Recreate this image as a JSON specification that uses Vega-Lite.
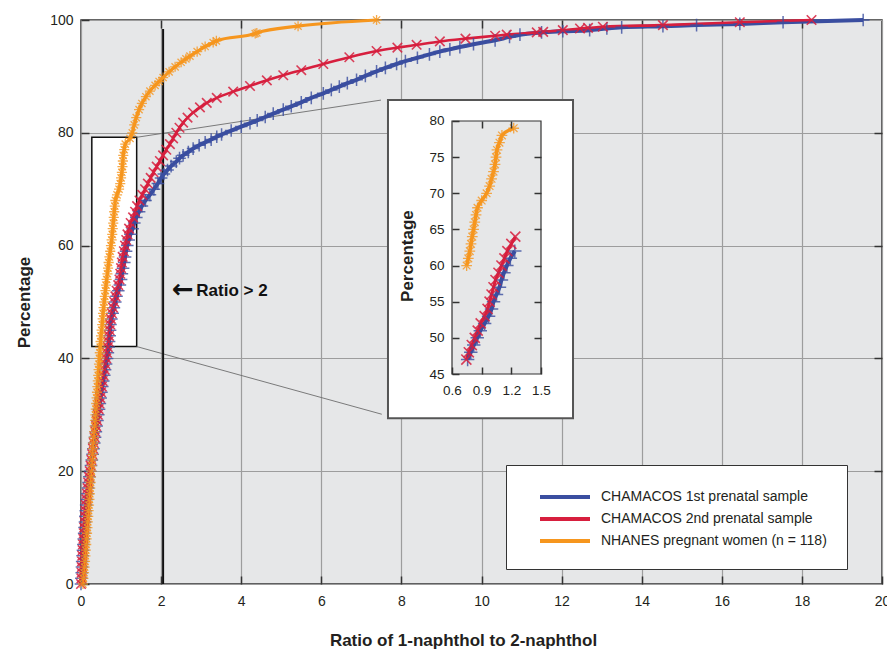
{
"$schema": "https://vega.github.io/schema/vega-lite/v6.json",
"width": 801,
"height": 564,
"autosize": {"type": "none"},
"padding": {"left": 81, "top": 20, "right": 5, "bottom": 68},
"background": "white",
"config": {
  "font": "Liberation Sans",
  "view": {"fill": "#e6e7e8", "stroke": "#333333", "strokeWidth": 1.5},
  "axis": {"labelFont": "Liberation Sans", "titleFont": "Liberation Sans", "labelColor": "#231f20", "titleColor": "#231f20", "tickColor": "#333333", "tickWidth": 1.5, "gridColor": "#9d9d9d", "gridWidth": 1.2, "domain": false, "labelFlush": false, "labelOverlap": false}
},
"datasets": {
"curves": [
{"s":"CHAMACOS 1st prenatal sample","x":0.00,"y":0},{"s":"CHAMACOS 1st prenatal sample","x":0.01,"y":1},{"s":"CHAMACOS 1st prenatal sample","x":0.02,"y":2},{"s":"CHAMACOS 1st prenatal sample","x":0.025,"y":3},{"s":"CHAMACOS 1st prenatal sample","x":0.03,"y":4},{"s":"CHAMACOS 1st prenatal sample","x":0.04,"y":5},{"s":"CHAMACOS 1st prenatal sample","x":0.05,"y":6},{"s":"CHAMACOS 1st prenatal sample","x":0.06,"y":7},{"s":"CHAMACOS 1st prenatal sample","x":0.07,"y":8},{"s":"CHAMACOS 1st prenatal sample","x":0.08,"y":9},{"s":"CHAMACOS 1st prenatal sample","x":0.09,"y":10},{"s":"CHAMACOS 1st prenatal sample","x":0.10,"y":11},{"s":"CHAMACOS 1st prenatal sample","x":0.11,"y":12},{"s":"CHAMACOS 1st prenatal sample","x":0.12,"y":13},{"s":"CHAMACOS 1st prenatal sample","x":0.13,"y":14},{"s":"CHAMACOS 1st prenatal sample","x":0.145,"y":15},{"s":"CHAMACOS 1st prenatal sample","x":0.16,"y":16},{"s":"CHAMACOS 1st prenatal sample","x":0.175,"y":17},{"s":"CHAMACOS 1st prenatal sample","x":0.19,"y":18},{"s":"CHAMACOS 1st prenatal sample","x":0.21,"y":19},{"s":"CHAMACOS 1st prenatal sample","x":0.23,"y":20},{"s":"CHAMACOS 1st prenatal sample","x":0.25,"y":21},{"s":"CHAMACOS 1st prenatal sample","x":0.27,"y":22},{"s":"CHAMACOS 1st prenatal sample","x":0.29,"y":23},{"s":"CHAMACOS 1st prenatal sample","x":0.31,"y":24},{"s":"CHAMACOS 1st prenatal sample","x":0.33,"y":25},{"s":"CHAMACOS 1st prenatal sample","x":0.35,"y":26},{"s":"CHAMACOS 1st prenatal sample","x":0.37,"y":27},{"s":"CHAMACOS 1st prenatal sample","x":0.39,"y":28},{"s":"CHAMACOS 1st prenatal sample","x":0.41,"y":29},{"s":"CHAMACOS 1st prenatal sample","x":0.43,"y":30},{"s":"CHAMACOS 1st prenatal sample","x":0.45,"y":31},{"s":"CHAMACOS 1st prenatal sample","x":0.47,"y":32},{"s":"CHAMACOS 1st prenatal sample","x":0.49,"y":33},{"s":"CHAMACOS 1st prenatal sample","x":0.51,"y":34},{"s":"CHAMACOS 1st prenatal sample","x":0.53,"y":35},{"s":"CHAMACOS 1st prenatal sample","x":0.555,"y":36},{"s":"CHAMACOS 1st prenatal sample","x":0.58,"y":37},{"s":"CHAMACOS 1st prenatal sample","x":0.60,"y":38},{"s":"CHAMACOS 1st prenatal sample","x":0.625,"y":39},{"s":"CHAMACOS 1st prenatal sample","x":0.65,"y":40},{"s":"CHAMACOS 1st prenatal sample","x":0.67,"y":41},{"s":"CHAMACOS 1st prenatal sample","x":0.69,"y":42},{"s":"CHAMACOS 1st prenatal sample","x":0.70,"y":43},{"s":"CHAMACOS 1st prenatal sample","x":0.715,"y":44},{"s":"CHAMACOS 1st prenatal sample","x":0.725,"y":45},{"s":"CHAMACOS 1st prenatal sample","x":0.735,"y":46},{"s":"CHAMACOS 1st prenatal sample","x":0.758,"y":47},{"s":"CHAMACOS 1st prenatal sample","x":0.79,"y":48},{"s":"CHAMACOS 1st prenatal sample","x":0.82,"y":49},{"s":"CHAMACOS 1st prenatal sample","x":0.855,"y":50},{"s":"CHAMACOS 1st prenatal sample","x":0.886,"y":51},{"s":"CHAMACOS 1st prenatal sample","x":0.93,"y":52},{"s":"CHAMACOS 1st prenatal sample","x":0.97,"y":53},{"s":"CHAMACOS 1st prenatal sample","x":1.00,"y":54},{"s":"CHAMACOS 1st prenatal sample","x":1.02,"y":55},{"s":"CHAMACOS 1st prenatal sample","x":1.05,"y":56},{"s":"CHAMACOS 1st prenatal sample","x":1.08,"y":57},{"s":"CHAMACOS 1st prenatal sample","x":1.10,"y":58},{"s":"CHAMACOS 1st prenatal sample","x":1.125,"y":59},{"s":"CHAMACOS 1st prenatal sample","x":1.155,"y":60},{"s":"CHAMACOS 1st prenatal sample","x":1.19,"y":61},{"s":"CHAMACOS 1st prenatal sample","x":1.235,"y":62},{"s":"CHAMACOS 1st prenatal sample","x":1.29,"y":63},{"s":"CHAMACOS 1st prenatal sample","x":1.33,"y":64},{"s":"CHAMACOS 1st prenatal sample","x":1.38,"y":65},{"s":"CHAMACOS 1st prenatal sample","x":1.45,"y":66},{"s":"CHAMACOS 1st prenatal sample","x":1.52,"y":67},{"s":"CHAMACOS 1st prenatal sample","x":1.61,"y":68},{"s":"CHAMACOS 1st prenatal sample","x":1.72,"y":69},{"s":"CHAMACOS 1st prenatal sample","x":1.82,"y":70},{"s":"CHAMACOS 1st prenatal sample","x":1.92,"y":71},{"s":"CHAMACOS 1st prenatal sample","x":2.0,"y":72},{"s":"CHAMACOS 1st prenatal sample","x":2.07,"y":72.7},{"s":"CHAMACOS 1st prenatal sample","x":2.16,"y":73.4},{"s":"CHAMACOS 1st prenatal sample","x":2.25,"y":74.1},{"s":"CHAMACOS 1st prenatal sample","x":2.38,"y":74.9},{"s":"CHAMACOS 1st prenatal sample","x":2.46,"y":75.5},{"s":"CHAMACOS 1st prenatal sample","x":2.55,"y":76.0},{"s":"CHAMACOS 1st prenatal sample","x":2.68,"y":76.6},{"s":"CHAMACOS 1st prenatal sample","x":2.8,"y":77.2},{"s":"CHAMACOS 1st prenatal sample","x":2.95,"y":77.8},{"s":"CHAMACOS 1st prenatal sample","x":3.1,"y":78.3},{"s":"CHAMACOS 1st prenatal sample","x":3.25,"y":78.8},{"s":"CHAMACOS 1st prenatal sample","x":3.39,"y":79.3},{"s":"CHAMACOS 1st prenatal sample","x":3.51,"y":79.7},{"s":"CHAMACOS 1st prenatal sample","x":3.75,"y":80.4},{"s":"CHAMACOS 1st prenatal sample","x":4.0,"y":81.1},{"s":"CHAMACOS 1st prenatal sample","x":4.22,"y":81.7},{"s":"CHAMACOS 1st prenatal sample","x":4.4,"y":82.2},{"s":"CHAMACOS 1st prenatal sample","x":4.6,"y":82.8},{"s":"CHAMACOS 1st prenatal sample","x":4.8,"y":83.4},{"s":"CHAMACOS 1st prenatal sample","x":5.05,"y":84.1},{"s":"CHAMACOS 1st prenatal sample","x":5.25,"y":84.7},{"s":"CHAMACOS 1st prenatal sample","x":5.5,"y":85.4},{"s":"CHAMACOS 1st prenatal sample","x":5.75,"y":86.2},{"s":"CHAMACOS 1st prenatal sample","x":6.05,"y":87},{"s":"CHAMACOS 1st prenatal sample","x":6.25,"y":87.6},{"s":"CHAMACOS 1st prenatal sample","x":6.45,"y":88.2},{"s":"CHAMACOS 1st prenatal sample","x":6.65,"y":88.8},{"s":"CHAMACOS 1st prenatal sample","x":6.88,"y":89.4},{"s":"CHAMACOS 1st prenatal sample","x":7.1,"y":90.1},{"s":"CHAMACOS 1st prenatal sample","x":7.38,"y":90.9},{"s":"CHAMACOS 1st prenatal sample","x":7.6,"y":91.5},{"s":"CHAMACOS 1st prenatal sample","x":7.88,"y":92.2},{"s":"CHAMACOS 1st prenatal sample","x":8.1,"y":92.7},{"s":"CHAMACOS 1st prenatal sample","x":8.4,"y":93.3},{"s":"CHAMACOS 1st prenatal sample","x":8.7,"y":93.9},{"s":"CHAMACOS 1st prenatal sample","x":8.96,"y":94.4},{"s":"CHAMACOS 1st prenatal sample","x":9.21,"y":94.8},{"s":"CHAMACOS 1st prenatal sample","x":9.46,"y":95.2},{"s":"CHAMACOS 1st prenatal sample","x":9.8,"y":95.7},{"s":"CHAMACOS 1st prenatal sample","x":10.34,"y":96.4},{"s":"CHAMACOS 1st prenatal sample","x":10.7,"y":97},{"s":"CHAMACOS 1st prenatal sample","x":10.96,"y":97.4},{"s":"CHAMACOS 1st prenatal sample","x":11.5,"y":97.8},{"s":"CHAMACOS 1st prenatal sample","x":12.03,"y":98},{"s":"CHAMACOS 1st prenatal sample","x":12.7,"y":98.2},{"s":"CHAMACOS 1st prenatal sample","x":13.13,"y":98.5},{"s":"CHAMACOS 1st prenatal sample","x":13.5,"y":98.7},{"s":"CHAMACOS 1st prenatal sample","x":14.53,"y":98.9},{"s":"CHAMACOS 1st prenatal sample","x":15.37,"y":99.1},{"s":"CHAMACOS 1st prenatal sample","x":16.45,"y":99.3},{"s":"CHAMACOS 1st prenatal sample","x":17.53,"y":99.6},{"s":"CHAMACOS 1st prenatal sample","x":19.53,"y":100},
{"s":"CHAMACOS 2nd prenatal sample","x":0.00,"y":0},{"s":"CHAMACOS 2nd prenatal sample","x":0.01,"y":1},{"s":"CHAMACOS 2nd prenatal sample","x":0.015,"y":2},{"s":"CHAMACOS 2nd prenatal sample","x":0.02,"y":3},{"s":"CHAMACOS 2nd prenatal sample","x":0.025,"y":4},{"s":"CHAMACOS 2nd prenatal sample","x":0.03,"y":5},{"s":"CHAMACOS 2nd prenatal sample","x":0.04,"y":6},{"s":"CHAMACOS 2nd prenatal sample","x":0.05,"y":7},{"s":"CHAMACOS 2nd prenatal sample","x":0.06,"y":8},{"s":"CHAMACOS 2nd prenatal sample","x":0.07,"y":9},{"s":"CHAMACOS 2nd prenatal sample","x":0.08,"y":10},{"s":"CHAMACOS 2nd prenatal sample","x":0.09,"y":11},{"s":"CHAMACOS 2nd prenatal sample","x":0.10,"y":12},{"s":"CHAMACOS 2nd prenatal sample","x":0.11,"y":13},{"s":"CHAMACOS 2nd prenatal sample","x":0.12,"y":14},{"s":"CHAMACOS 2nd prenatal sample","x":0.135,"y":15},{"s":"CHAMACOS 2nd prenatal sample","x":0.15,"y":16},{"s":"CHAMACOS 2nd prenatal sample","x":0.165,"y":17},{"s":"CHAMACOS 2nd prenatal sample","x":0.18,"y":18},{"s":"CHAMACOS 2nd prenatal sample","x":0.20,"y":19},{"s":"CHAMACOS 2nd prenatal sample","x":0.22,"y":20},{"s":"CHAMACOS 2nd prenatal sample","x":0.24,"y":21},{"s":"CHAMACOS 2nd prenatal sample","x":0.26,"y":22},{"s":"CHAMACOS 2nd prenatal sample","x":0.28,"y":23},{"s":"CHAMACOS 2nd prenatal sample","x":0.30,"y":24},{"s":"CHAMACOS 2nd prenatal sample","x":0.32,"y":25},{"s":"CHAMACOS 2nd prenatal sample","x":0.34,"y":26},{"s":"CHAMACOS 2nd prenatal sample","x":0.36,"y":27},{"s":"CHAMACOS 2nd prenatal sample","x":0.38,"y":28},{"s":"CHAMACOS 2nd prenatal sample","x":0.40,"y":29},{"s":"CHAMACOS 2nd prenatal sample","x":0.42,"y":30},{"s":"CHAMACOS 2nd prenatal sample","x":0.44,"y":31},{"s":"CHAMACOS 2nd prenatal sample","x":0.46,"y":32},{"s":"CHAMACOS 2nd prenatal sample","x":0.48,"y":33},{"s":"CHAMACOS 2nd prenatal sample","x":0.50,"y":34},{"s":"CHAMACOS 2nd prenatal sample","x":0.52,"y":35},{"s":"CHAMACOS 2nd prenatal sample","x":0.54,"y":36},{"s":"CHAMACOS 2nd prenatal sample","x":0.56,"y":37},{"s":"CHAMACOS 2nd prenatal sample","x":0.59,"y":38},{"s":"CHAMACOS 2nd prenatal sample","x":0.61,"y":39},{"s":"CHAMACOS 2nd prenatal sample","x":0.63,"y":40},{"s":"CHAMACOS 2nd prenatal sample","x":0.65,"y":41},{"s":"CHAMACOS 2nd prenatal sample","x":0.67,"y":42},{"s":"CHAMACOS 2nd prenatal sample","x":0.685,"y":43},{"s":"CHAMACOS 2nd prenatal sample","x":0.70,"y":44},{"s":"CHAMACOS 2nd prenatal sample","x":0.715,"y":45},{"s":"CHAMACOS 2nd prenatal sample","x":0.73,"y":46},{"s":"CHAMACOS 2nd prenatal sample","x":0.745,"y":47},{"s":"CHAMACOS 2nd prenatal sample","x":0.77,"y":48},{"s":"CHAMACOS 2nd prenatal sample","x":0.80,"y":49},{"s":"CHAMACOS 2nd prenatal sample","x":0.83,"y":50},{"s":"CHAMACOS 2nd prenatal sample","x":0.86,"y":51},{"s":"CHAMACOS 2nd prenatal sample","x":0.89,"y":52},{"s":"CHAMACOS 2nd prenatal sample","x":0.93,"y":53},{"s":"CHAMACOS 2nd prenatal sample","x":0.96,"y":54},{"s":"CHAMACOS 2nd prenatal sample","x":0.98,"y":55},{"s":"CHAMACOS 2nd prenatal sample","x":1.00,"y":56},{"s":"CHAMACOS 2nd prenatal sample","x":1.02,"y":57},{"s":"CHAMACOS 2nd prenatal sample","x":1.04,"y":58},{"s":"CHAMACOS 2nd prenatal sample","x":1.07,"y":59},{"s":"CHAMACOS 2nd prenatal sample","x":1.10,"y":60},{"s":"CHAMACOS 2nd prenatal sample","x":1.13,"y":61},{"s":"CHAMACOS 2nd prenatal sample","x":1.16,"y":62},{"s":"CHAMACOS 2nd prenatal sample","x":1.20,"y":63},{"s":"CHAMACOS 2nd prenatal sample","x":1.24,"y":64},{"s":"CHAMACOS 2nd prenatal sample","x":1.30,"y":65},{"s":"CHAMACOS 2nd prenatal sample","x":1.35,"y":66},{"s":"CHAMACOS 2nd prenatal sample","x":1.40,"y":67},{"s":"CHAMACOS 2nd prenatal sample","x":1.46,"y":68},{"s":"CHAMACOS 2nd prenatal sample","x":1.53,"y":69},{"s":"CHAMACOS 2nd prenatal sample","x":1.60,"y":70},{"s":"CHAMACOS 2nd prenatal sample","x":1.67,"y":71},{"s":"CHAMACOS 2nd prenatal sample","x":1.74,"y":72},{"s":"CHAMACOS 2nd prenatal sample","x":1.81,"y":73},{"s":"CHAMACOS 2nd prenatal sample","x":1.89,"y":74},{"s":"CHAMACOS 2nd prenatal sample","x":1.97,"y":75},{"s":"CHAMACOS 2nd prenatal sample","x":2.05,"y":76},{"s":"CHAMACOS 2nd prenatal sample","x":2.13,"y":77},{"s":"CHAMACOS 2nd prenatal sample","x":2.22,"y":78},{"s":"CHAMACOS 2nd prenatal sample","x":2.30,"y":79},{"s":"CHAMACOS 2nd prenatal sample","x":2.38,"y":80},{"s":"CHAMACOS 2nd prenatal sample","x":2.46,"y":80.9},{"s":"CHAMACOS 2nd prenatal sample","x":2.55,"y":81.8},{"s":"CHAMACOS 2nd prenatal sample","x":2.66,"y":82.7},{"s":"CHAMACOS 2nd prenatal sample","x":2.80,"y":83.6},{"s":"CHAMACOS 2nd prenatal sample","x":2.97,"y":84.5},{"s":"CHAMACOS 2nd prenatal sample","x":3.14,"y":85.3},{"s":"CHAMACOS 2nd prenatal sample","x":3.39,"y":86.2},{"s":"CHAMACOS 2nd prenatal sample","x":3.8,"y":87.3},{"s":"CHAMACOS 2nd prenatal sample","x":4.22,"y":88.3},{"s":"CHAMACOS 2nd prenatal sample","x":4.64,"y":89.3},{"s":"CHAMACOS 2nd prenatal sample","x":5.05,"y":90.2},{"s":"CHAMACOS 2nd prenatal sample","x":5.5,"y":91.1},{"s":"CHAMACOS 2nd prenatal sample","x":6.05,"y":92.2},{"s":"CHAMACOS 2nd prenatal sample","x":6.7,"y":93.4},{"s":"CHAMACOS 2nd prenatal sample","x":7.38,"y":94.5},{"s":"CHAMACOS 2nd prenatal sample","x":7.9,"y":95.1},{"s":"CHAMACOS 2nd prenatal sample","x":8.38,"y":95.6},{"s":"CHAMACOS 2nd prenatal sample","x":8.96,"y":96.2},{"s":"CHAMACOS 2nd prenatal sample","x":9.6,"y":96.7},{"s":"CHAMACOS 2nd prenatal sample","x":10.34,"y":97.2},{"s":"CHAMACOS 2nd prenatal sample","x":10.63,"y":97.4},{"s":"CHAMACOS 2nd prenatal sample","x":11.38,"y":97.8},{"s":"CHAMACOS 2nd prenatal sample","x":11.54,"y":97.9},{"s":"CHAMACOS 2nd prenatal sample","x":12.03,"y":98.2},{"s":"CHAMACOS 2nd prenatal sample","x":12.46,"y":98.5},{"s":"CHAMACOS 2nd prenatal sample","x":12.66,"y":98.6},{"s":"CHAMACOS 2nd prenatal sample","x":13.03,"y":98.8},{"s":"CHAMACOS 2nd prenatal sample","x":14.53,"y":99.1},{"s":"CHAMACOS 2nd prenatal sample","x":16.45,"y":99.6},{"s":"CHAMACOS 2nd prenatal sample","x":18.24,"y":100},
{"s":"NHANES pregnant women (n = 118)","x":0.05,"y":0},{"s":"NHANES pregnant women (n = 118)","x":0.06,"y":1},{"s":"NHANES pregnant women (n = 118)","x":0.075,"y":2},{"s":"NHANES pregnant women (n = 118)","x":0.09,"y":3},{"s":"NHANES pregnant women (n = 118)","x":0.10,"y":4},{"s":"NHANES pregnant women (n = 118)","x":0.11,"y":5},{"s":"NHANES pregnant women (n = 118)","x":0.12,"y":6},{"s":"NHANES pregnant women (n = 118)","x":0.13,"y":7},{"s":"NHANES pregnant women (n = 118)","x":0.14,"y":8},{"s":"NHANES pregnant women (n = 118)","x":0.15,"y":9},{"s":"NHANES pregnant women (n = 118)","x":0.16,"y":10},{"s":"NHANES pregnant women (n = 118)","x":0.17,"y":11},{"s":"NHANES pregnant women (n = 118)","x":0.18,"y":12},{"s":"NHANES pregnant women (n = 118)","x":0.19,"y":13},{"s":"NHANES pregnant women (n = 118)","x":0.20,"y":14},{"s":"NHANES pregnant women (n = 118)","x":0.21,"y":15},{"s":"NHANES pregnant women (n = 118)","x":0.22,"y":16},{"s":"NHANES pregnant women (n = 118)","x":0.23,"y":17},{"s":"NHANES pregnant women (n = 118)","x":0.24,"y":18},{"s":"NHANES pregnant women (n = 118)","x":0.25,"y":19},{"s":"NHANES pregnant women (n = 118)","x":0.26,"y":20},{"s":"NHANES pregnant women (n = 118)","x":0.27,"y":21},{"s":"NHANES pregnant women (n = 118)","x":0.28,"y":22},{"s":"NHANES pregnant women (n = 118)","x":0.29,"y":23},{"s":"NHANES pregnant women (n = 118)","x":0.30,"y":24},{"s":"NHANES pregnant women (n = 118)","x":0.31,"y":25},{"s":"NHANES pregnant women (n = 118)","x":0.32,"y":26},{"s":"NHANES pregnant women (n = 118)","x":0.33,"y":27},{"s":"NHANES pregnant women (n = 118)","x":0.34,"y":28},{"s":"NHANES pregnant women (n = 118)","x":0.35,"y":29},{"s":"NHANES pregnant women (n = 118)","x":0.36,"y":30},{"s":"NHANES pregnant women (n = 118)","x":0.37,"y":31},{"s":"NHANES pregnant women (n = 118)","x":0.38,"y":32},{"s":"NHANES pregnant women (n = 118)","x":0.39,"y":33},{"s":"NHANES pregnant women (n = 118)","x":0.40,"y":34},{"s":"NHANES pregnant women (n = 118)","x":0.41,"y":35},{"s":"NHANES pregnant women (n = 118)","x":0.42,"y":36},{"s":"NHANES pregnant women (n = 118)","x":0.43,"y":37},{"s":"NHANES pregnant women (n = 118)","x":0.44,"y":38},{"s":"NHANES pregnant women (n = 118)","x":0.45,"y":39},{"s":"NHANES pregnant women (n = 118)","x":0.46,"y":40},{"s":"NHANES pregnant women (n = 118)","x":0.47,"y":41},{"s":"NHANES pregnant women (n = 118)","x":0.48,"y":42},{"s":"NHANES pregnant women (n = 118)","x":0.49,"y":43},{"s":"NHANES pregnant women (n = 118)","x":0.50,"y":44},{"s":"NHANES pregnant women (n = 118)","x":0.515,"y":45},{"s":"NHANES pregnant women (n = 118)","x":0.53,"y":46},{"s":"NHANES pregnant women (n = 118)","x":0.54,"y":47},{"s":"NHANES pregnant women (n = 118)","x":0.55,"y":48},{"s":"NHANES pregnant women (n = 118)","x":0.565,"y":49},{"s":"NHANES pregnant women (n = 118)","x":0.58,"y":50},{"s":"NHANES pregnant women (n = 118)","x":0.595,"y":51},{"s":"NHANES pregnant women (n = 118)","x":0.61,"y":52},{"s":"NHANES pregnant women (n = 118)","x":0.625,"y":53},{"s":"NHANES pregnant women (n = 118)","x":0.64,"y":54},{"s":"NHANES pregnant women (n = 118)","x":0.66,"y":55},{"s":"NHANES pregnant women (n = 118)","x":0.675,"y":56},{"s":"NHANES pregnant women (n = 118)","x":0.69,"y":57},{"s":"NHANES pregnant women (n = 118)","x":0.71,"y":58},{"s":"NHANES pregnant women (n = 118)","x":0.73,"y":59},{"s":"NHANES pregnant women (n = 118)","x":0.748,"y":60},{"s":"NHANES pregnant women (n = 118)","x":0.765,"y":61},{"s":"NHANES pregnant women (n = 118)","x":0.78,"y":62},{"s":"NHANES pregnant women (n = 118)","x":0.792,"y":63},{"s":"NHANES pregnant women (n = 118)","x":0.805,"y":64},{"s":"NHANES pregnant women (n = 118)","x":0.818,"y":65},{"s":"NHANES pregnant women (n = 118)","x":0.83,"y":66},{"s":"NHANES pregnant women (n = 118)","x":0.843,"y":67},{"s":"NHANES pregnant women (n = 118)","x":0.858,"y":68},{"s":"NHANES pregnant women (n = 118)","x":0.9,"y":69},{"s":"NHANES pregnant women (n = 118)","x":0.95,"y":70},{"s":"NHANES pregnant women (n = 118)","x":0.98,"y":71},{"s":"NHANES pregnant women (n = 118)","x":1.0,"y":72},{"s":"NHANES pregnant women (n = 118)","x":1.02,"y":73},{"s":"NHANES pregnant women (n = 118)","x":1.035,"y":74},{"s":"NHANES pregnant women (n = 118)","x":1.045,"y":75},{"s":"NHANES pregnant women (n = 118)","x":1.055,"y":76},{"s":"NHANES pregnant women (n = 118)","x":1.08,"y":77},{"s":"NHANES pregnant women (n = 118)","x":1.105,"y":78},{"s":"NHANES pregnant women (n = 118)","x":1.224,"y":79},{"s":"NHANES pregnant women (n = 118)","x":1.28,"y":80},{"s":"NHANES pregnant women (n = 118)","x":1.33,"y":81.4},{"s":"NHANES pregnant women (n = 118)","x":1.38,"y":82.7},{"s":"NHANES pregnant women (n = 118)","x":1.45,"y":84.1},{"s":"NHANES pregnant women (n = 118)","x":1.52,"y":85.2},{"s":"NHANES pregnant women (n = 118)","x":1.62,"y":86.4},{"s":"NHANES pregnant women (n = 118)","x":1.72,"y":87.4},{"s":"NHANES pregnant women (n = 118)","x":1.85,"y":88.4},{"s":"NHANES pregnant women (n = 118)","x":1.95,"y":89.1},{"s":"NHANES pregnant women (n = 118)","x":2.05,"y":89.8},{"s":"NHANES pregnant women (n = 118)","x":2.2,"y":90.8},{"s":"NHANES pregnant women (n = 118)","x":2.35,"y":91.7},{"s":"NHANES pregnant women (n = 118)","x":2.5,"y":92.5},{"s":"NHANES pregnant women (n = 118)","x":2.62,"y":93.1},{"s":"NHANES pregnant women (n = 118)","x":2.72,"y":93.6},{"s":"NHANES pregnant women (n = 118)","x":2.9,"y":94.4},{"s":"NHANES pregnant women (n = 118)","x":3.1,"y":95.3},{"s":"NHANES pregnant women (n = 118)","x":3.3,"y":96.0},{"s":"NHANES pregnant women (n = 118)","x":3.38,"y":96.3},{"s":"NHANES pregnant women (n = 118)","x":4.35,"y":97.6},{"s":"NHANES pregnant women (n = 118)","x":4.39,"y":97.7},{"s":"NHANES pregnant women (n = 118)","x":5.42,"y":98.9},{"s":"NHANES pregnant women (n = 118)","x":7.38,"y":100}
]
},
"layer": [
  {
    "layer": [
      {
        "encoding": {
          "x": {"field": "x", "type": "quantitative", "scale": {"domain": [0, 20], "nice": false, "zero": false},
                "axis": {"orient": "bottom", "values": [0,2,4,6,8,10,12,14,16,18,20], "grid": true, "tickSize": -8, "labelPadding": 18, "labelFontSize": 14, "title": "Ratio of 1-naphthol to 2-naphthol", "titleFontSize": 17, "titleFontWeight": "bold", "titlePadding": 24, "titleX": 382}},
          "y": {"field": "y", "type": "quantitative", "scale": {"domain": [0, 100], "nice": false, "zero": false},
                "axis": {"orient": "left", "values": [0,20,40,60,80,100], "grid": true, "tickSize": -8, "labelPadding": 16, "labelFontSize": 14, "title": "Percentage", "titleFontSize": 17, "titleFontWeight": "bold", "titlePadding": 16}},
          "color": {"field": "s", "type": "nominal",
                    "scale": {"domain": ["CHAMACOS 1st prenatal sample", "CHAMACOS 2nd prenatal sample", "NHANES pregnant women (n = 118)"], "range": ["#3a4ea0", "#d71f3e", "#f6961e"]},
                    "legend": null}
        },
        "layer": [
          {
            "data": {"values": [{"x": 0.27, "x2": 1.39, "y": 42.1, "y2": 79.2}]},
            "mark": {"type": "rect", "fill": "white", "stroke": "#111111", "strokeWidth": 1.5},
            "encoding": {"x2": {"field": "x2"}, "y2": {"field": "y2"}, "color": null}
          },
          {
            "data": {"values": [{"x": 1.39, "y": 79.2, "x2": 7.49, "y2": 85.8}, {"x": 1.39, "y": 42.1, "x2": 7.51, "y2": 30.1}]},
            "mark": {"type": "rule", "color": "#6d6d6d", "strokeWidth": 0.9},
            "encoding": {"x2": {"field": "x2"}, "y2": {"field": "y2"}, "color": null}
          },
          {
            "data": {"values": [{"x": 2.05, "y": 0, "y2": 98.4}]},
            "mark": {"type": "rule", "color": "#111111", "strokeWidth": 2},
            "encoding": {"y2": {"field": "y2"}, "color": null}
          },
          {
            "data": {"name": "curves"},
            "transform": [{"filter": "datum.s == 'CHAMACOS 1st prenatal sample'"}],
            "mark": {"type": "line", "interpolate": "monotone", "strokeWidth": 4},
            "encoding": {
              "color": {"field": "s", "type": "nominal",
                        "legend": {"orient": "none", "legendX": 425, "legendY": 445, "title": null, "symbolType": "M-2.5,0L2.5,0", "symbolSize": 400, "symbolStrokeWidth": 4, "symbolOffset": 27, "labelOffset": 24, "labelFontSize": 14, "labelFont": "Liberation Sans", "labelColor": "#231f20", "labelLimit": 400, "padding": 20, "fillColor": "white", "strokeColor": "#333333", "rowPadding": 2, "symbolOpacity": 1}}
            }
          },
          {
            "data": {"name": "curves"},
            "transform": [{"filter": "datum.s == 'CHAMACOS 2nd prenatal sample'"}],
            "mark": {"type": "line", "interpolate": "monotone", "strokeWidth": 2.6}
          },
          {
            "data": {"name": "curves"},
            "transform": [{"filter": "datum.s == 'NHANES pregnant women (n = 118)'"}],
            "mark": {"type": "line", "interpolate": "monotone", "strokeWidth": 3.2}
          },
          {
            "data": {"name": "curves"},
            "transform": [{"filter": "datum.s == 'CHAMACOS 1st prenatal sample'"}],
            "mark": {"type": "point", "filled": false, "strokeWidth": 1.5, "opacity": 0.8, "size": 160, "shape": "M-1,0L1,0M0,-1L0,1"}
          },
          {
            "data": {"name": "curves"},
            "transform": [{"filter": "datum.s == 'CHAMACOS 2nd prenatal sample'"}],
            "mark": {"type": "point", "filled": false, "strokeWidth": 1.6, "opacity": 0.85, "size": 160, "shape": "M-0.75,-0.75L0.75,0.75M-0.75,0.75L0.75,-0.75"}
          },
          {
            "data": {"name": "curves"},
            "transform": [{"filter": "datum.s == 'NHANES pregnant women (n = 118)'"}],
            "mark": {"type": "point", "filled": false, "strokeWidth": 1.3, "opacity": 0.8, "size": 160, "shape": "M-0.8,0L0.8,0M0,-0.8L0,0.8M-0.57,-0.57L0.57,0.57M-0.57,0.57L0.57,-0.57"}
          },
          {
            "data": {"values": [{"x": 2.27, "y": 52, "label": "←"}]},
            "mark": {"type": "text", "align": "left", "baseline": "middle", "fontSize": 26, "fontWeight": "bold", "font": "DejaVu Sans", "color": "#111111", "dy": -1},
            "encoding": {"text": {"field": "label"}, "color": null}
          },
          {
            "data": {"values": [{"x": 2.88, "y": 52, "label": "Ratio > 2"}]},
            "mark": {"type": "text", "align": "left", "baseline": "middle", "fontSize": 17, "fontWeight": "bold", "color": "#111111"},
            "encoding": {"text": {"field": "label"}, "color": null}
          }
        ]
      },
      {
        "data": {"values": [{"x": 7.665, "x2": 12.285, "y": 85.8, "y2": 29.4}]},
        "mark": {"type": "rect", "fill": "white", "stroke": "#555555", "strokeWidth": 2},
        "encoding": {
          "x": {"field": "x", "type": "quantitative", "scale": {"domain": [0, 20], "nice": false, "zero": false},
                "axis": {"orient": "top", "values": [2,4,6,8,10,12,14,16,18], "labels": false, "grid": false, "tickSize": -8, "title": null}},
          "x2": {"field": "x2"},
          "y": {"field": "y", "type": "quantitative", "scale": {"domain": [0, 100], "nice": false, "zero": false},
                "axis": {"orient": "right", "values": [20,40,60,80], "labels": false, "grid": false, "tickSize": -8, "title": null}},
          "y2": {"field": "y2"}
        }
      }
    ],
    "resolve": {"axis": {"x": "independent", "y": "independent"}}
  },
  {
    "layer": [
      {
        "data": {"values": [{"x": 0.6, "x2": 1.5, "y": 45, "y2": 80}]},
        "mark": {"type": "rect", "fill": "#e6e7e8", "stroke": "#333333", "strokeWidth": 1.2},
        "encoding": {
          "x": {"field": "x", "type": "quantitative", "scale": {"domain": [-3.1517, 4.9483], "nice": false, "zero": false},
                "axis": {"orient": "top", "offset": -101, "values": [0.9, 1.2], "labels": false, "grid": false, "tickSize": -7, "title": null, "zindex": 1}},
          "x2": {"field": "x2"},
          "y": {"field": "y", "type": "quantitative", "scale": {"domain": [15.949, 93.972], "nice": false, "zero": false},
                "axis": {"orient": "right", "offset": -341, "values": [50,55,60,65,70,75], "labels": false, "grid": false, "tickSize": -7, "title": null, "zindex": 1}},
          "y2": {"field": "y2"}
        }
      },
      {
        "data": {"name": "curves"},
        "transform": [{"filter": "datum.x >= 0.74 && datum.x <= 1.25"}],
        "encoding": {
          "x": {"field": "x", "type": "quantitative", "scale": {"domain": [-3.1517, 4.9483], "nice": false, "zero": false},
                "axis": {"orient": "bottom", "offset": -210, "values": [0.6, 0.9, 1.2, 1.5], "format": ".1f", "grid": false, "tickSize": -7, "labelPadding": 16, "labelFontSize": 13.5, "title": null, "zindex": 1}},
          "y": {"field": "y", "type": "quantitative", "scale": {"domain": [15.949, 93.972], "nice": false, "zero": false},
                "axis": {"orient": "left", "offset": -371, "values": [45,50,55,60,65,70,75,80], "grid": false, "tickSize": -7, "labelPadding": 15, "labelFontSize": 13.5, "title": "Percentage", "titleFontSize": 17, "titleFontWeight": "bold", "titlePadding": 12, "titleY": 235.6, "zindex": 1}},
          "color": {"field": "s", "type": "nominal", "legend": null}
        },
        "layer": [
          {
            "transform": [{"filter": "datum.s == 'CHAMACOS 1st prenatal sample'"}],
            "mark": {"type": "line", "interpolate": "monotone", "strokeWidth": 4}
          },
          {
            "transform": [{"filter": "datum.s == 'CHAMACOS 2nd prenatal sample'"}],
            "mark": {"type": "line", "interpolate": "monotone", "strokeWidth": 3}
          },
          {
            "transform": [{"filter": "datum.s == 'NHANES pregnant women (n = 118)'"}],
            "mark": {"type": "line", "interpolate": "monotone", "strokeWidth": 3.5}
          },
          {
            "transform": [{"filter": "datum.s == 'CHAMACOS 1st prenatal sample'"}],
            "mark": {"type": "point", "filled": false, "strokeWidth": 1.5, "opacity": 0.8, "size": 180, "shape": "M-1,0L1,0M0,-1L0,1"}
          },
          {
            "transform": [{"filter": "datum.s == 'CHAMACOS 2nd prenatal sample'"}],
            "mark": {"type": "point", "filled": false, "strokeWidth": 1.6, "opacity": 0.85, "size": 180, "shape": "M-0.75,-0.75L0.75,0.75M-0.75,0.75L0.75,-0.75"}
          },
          {
            "transform": [{"filter": "datum.s == 'NHANES pregnant women (n = 118)'"}],
            "mark": {"type": "point", "filled": false, "strokeWidth": 1.3, "opacity": 0.8, "size": 180, "shape": "M-0.8,0L0.8,0M0,-0.8L0,0.8M-0.57,-0.57L0.57,0.57M-0.57,0.57L0.57,-0.57"}
          }
        ]
      }
    ],
    "resolve": {"axis": {"x": "independent", "y": "independent"}}
  }
],
"resolve": {"scale": {"x": "independent", "y": "independent"}}
}
